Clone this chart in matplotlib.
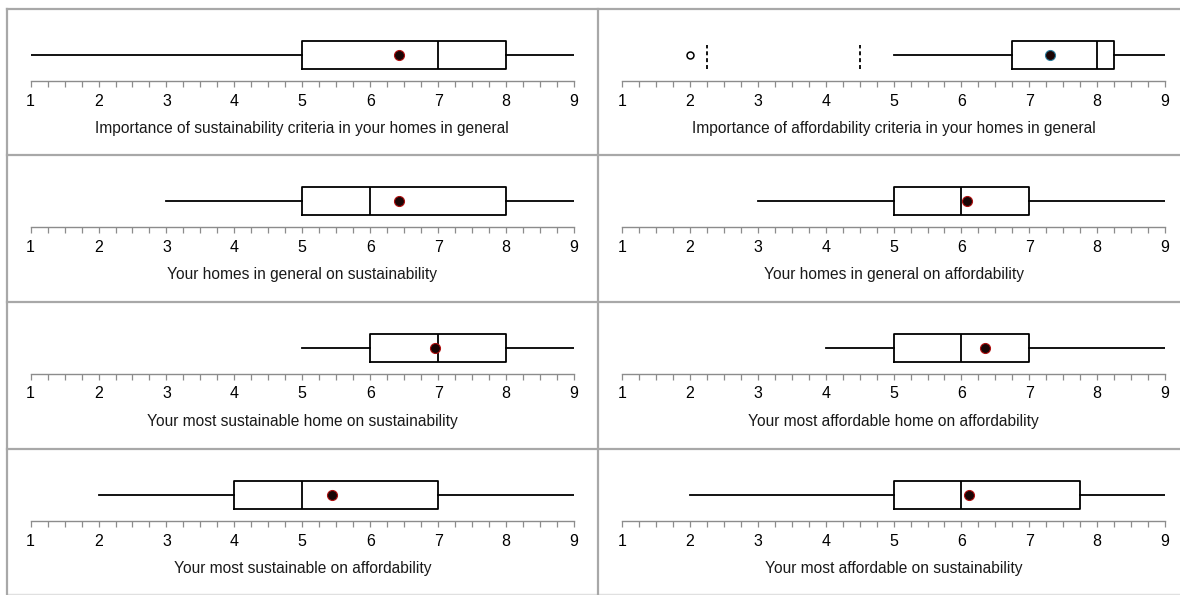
import matplotlib
matplotlib.use("Agg")
import matplotlib.pyplot as plt
from matplotlib.lines import Line2D

plt.rcParams['font.family'] = ['Liberation Sans', 'DejaVu Sans']

# ---- data ----
labels = [
    "Importance of sustainability criteria in your homes in general",
    "Importance of affordability criteria in your homes in general",
    "Your homes in general on sustainability",
    "Your homes in general on affordability",
    "Your most sustainable home on sustainability",
    "Your most affordable home on affordability",
    "Your most sustainable on affordability",
    "Your most affordable on sustainability",
]
whisker_low = [1, 5, 3, 3, 5, 4, 2, 2]
q1 = [5, 6.75, 5, 5, 6, 5, 4, 5]
medians = [7, 8, 6, 6, 7, 6, 5, 6]
q3 = [8, 8.25, 8, 7, 8, 7, 7, 7.75]
whisker_high = [9, 9, 9, 9, 9, 9, 9, 9]
means = [6.43, 7.31, 6.43, 6.08, 6.96, 6.35, 5.43, 6.11]
outliers = [[], [2], [], [], [], [], [], []]
fences = [[], [2.25, 4.5], [], [], [], [], [], []]
mean_edge = ['#b01010', '#2a7a9a', '#b01010', '#b01010',
             '#b01010', '#b01010', '#b01010', '#b01010']
tick_values = [1, 2, 3, 4, 5, 6, 7, 8, 9]

W, H = 1180, 595
fig = plt.figure(figsize=(W / 100, H / 100), dpi=100)

row_tops = [9, 155, 302, 449]
col_x = [(30.6, 574.0), (622.2, 1165.0)]

for i in range(8):
    r, c = divmod(i, 2)
    T = row_tops[r]
    x0, x1 = col_x[c]
    axis_y = T + 72
    top_y = T + 20
    ax = fig.add_axes([x0 / W, 1 - axis_y / H, (x1 - x0) / W, (axis_y - top_y) / H])
    ax.set_xlim(1, 9)
    ax.set_ylim(0, 1)
    pos = (axis_y - (T + 46)) / (axis_y - top_y)
    bw = 28 / (axis_y - top_y)
    stats = [dict(whislo=whisker_low[i], q1=q1[i], med=medians[i], q3=q3[i],
                  whishi=whisker_high[i], fliers=outliers[i], mean=means[i])]
    ax.bxp(stats, positions=[pos], widths=bw, orientation='horizontal',
           showcaps=False, showmeans=True, showfliers=True,
           boxprops=dict(color='black', linewidth=1.3),
           medianprops=dict(color='black', linewidth=1.3),
           whiskerprops=dict(color='black', linewidth=1.3),
           meanprops=dict(marker='o', markerfacecolor='#1a0505',
                          markeredgecolor=mean_edge[i], markersize=7.2,
                          markeredgewidth=0.8),
           flierprops=dict(marker='o', markerfacecolor='white',
                           markeredgecolor='black', markersize=5,
                           markeredgewidth=1.1))
    for f in fences[i]:
        ax.vlines(f, pos - bw * 0.5, pos + bw * 0.36, colors='black',
                  linestyles=(0, (2.2, 1.6)), linewidth=1.3)
    for s in ['top', 'right', 'left']:
        ax.spines[s].set_visible(False)
    ax.spines['bottom'].set_color('#8c8c8c')
    ax.spines['bottom'].set_linewidth(1.0)
    ax.set_yticks([])
    ax.set_xticks(tick_values)
    ax.set_xticks([v / 4 for v in range(4, 37)], minor=True)
    ax.tick_params(axis='x', which='both', direction='out', length=4,
                   color='#8c8c8c', width=0.9)
    ax.tick_params(axis='x', which='major', labelsize=11.5, pad=5)
    ax.set_xlabel(labels[i], fontsize=11.2, labelpad=9, color='#1a1a1a')
    ax.patch.set_alpha(0)

# panel borders
gc = '#a8a8a8'
def hline(y, xa=7, xb=1180, color=gc, lw=1.6):
    fig.add_artist(Line2D([xa / W, xb / W], [1 - y / H, 1 - y / H], color=color, linewidth=lw))
def vline(x, ya=9, yb=595, color=gc, lw=1.6):
    fig.add_artist(Line2D([x / W, x / W], [1 - ya / H, 1 - yb / H], color=color, linewidth=lw))

hline(9)
hline(155)
hline(302)
hline(449)
hline(594, color='#e0e0e0', lw=1.0)
vline(7)
vline(598)

fig.savefig("out.png", dpi=100)
